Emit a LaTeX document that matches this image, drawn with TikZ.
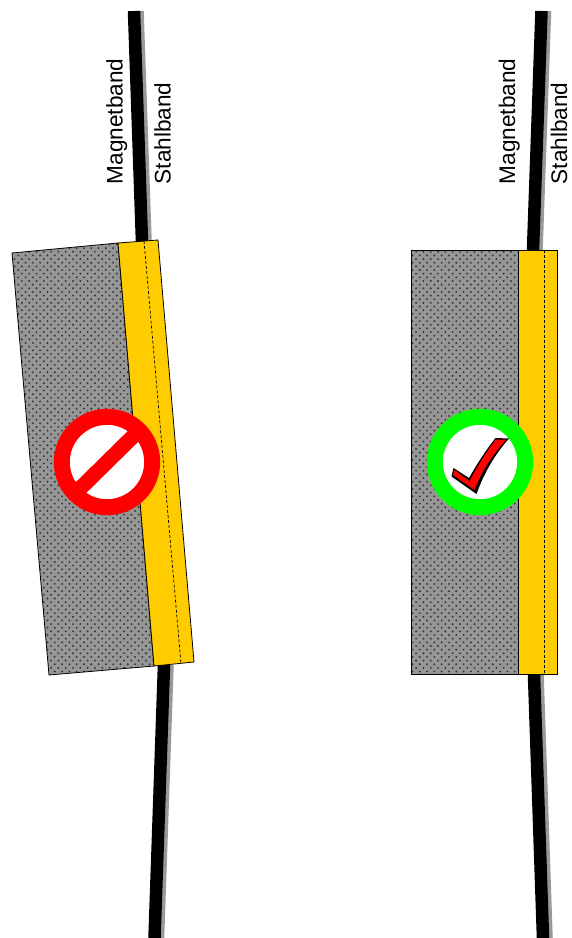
\documentclass[tikz,border=0pt]{standalone}
\usepackage{fontspec}
\setmainfont{Liberation Sans}
\usetikzlibrary{patterns}

\definecolor{bandgray}{HTML}{999999}
\definecolor{corefill}{HTML}{969696}
\definecolor{shoefill}{HTML}{FFCC00}
\definecolor{okgreen}{HTML}{00FF00}

\pgfdeclarepatternformonly{coredots}{\pgfqpoint{-1.5pt}{-1.5pt}}{\pgfqpoint{5.8pt}{5.8pt}}{\pgfqpoint{7.3pt}{7.3pt}}{
  \pgfpathcircle{\pgfqpoint{0pt}{0pt}}{1.05pt}
  \pgfpathcircle{\pgfqpoint{3.65pt}{3.65pt}}{1.05pt}
  \pgfusepath{fill}
}

\tikzset{
  magnet/.style={line width=12.5pt,black},
  steel/.style={line width=12.5pt,bandgray},
  core/.style={fill=corefill,draw=none},
  coredot/.style={pattern=coredots,pattern color=black!80,draw=black,line width=0.8pt},
  shoe/.style={fill=shoefill,draw=black,line width=0.8pt},
  seam/.style={densely dashed,line width=0.7pt},
  bandlabel/.style={rotate=90,anchor=base west,inner sep=0pt,font=\fontsize{22.6}{27}\selectfont}
}

\begin{document}
\begin{tikzpicture}[x=1pt,y=-1pt]

\useasboundingbox (0,0) rectangle (571,938);

% tilted head, bands
\draw[steel] (137.5,11) -- (145.5,242);

\draw[steel] (167.5,665) -- (158,938);

\draw[magnet] (134,11) -- (142,242);

\draw[magnet] (164,665) -- (154.5,938);

\node[bandlabel] (magnetA) at (122.5,184.5) {Magnetband};

\node[bandlabel] (stahlA) at (170.5,184.5) {Stahlband};

% tilted head, body
\coordinate (tl) at (12,253);
\coordinate (tm) at (118,243);
\coordinate (tr) at (158,240);
\coordinate (br) at (194,662);
\coordinate (bm) at (154,666);
\coordinate (bl) at (49,675);

\fill[core] (tl) -- (tm) -- (bm) -- (bl) -- cycle;

\draw[coredot] (tl) -- (tm) -- (bm) -- (bl) -- cycle;

\draw[shoe] (tm) -- (tr) -- (br) -- (bm) -- cycle;

\draw[seam] (144,241) -- (181,663.5);

% flat head, bands
\draw[steel] (545,11) -- (536.5,250);

\draw[steel] (537.5,675) -- (546.5,938);

\draw[magnet] (541.5,11) -- (533,250);

\draw[magnet] (534,675) -- (543,938);

\node[bandlabel] (magnetB) at (515,184.5) {Magnetband};

\node[bandlabel] (stahlB) at (567,184.5) {Stahlband};

% flat head, body
\fill[core] (411,250) rectangle (518,674);

\draw[coredot] (411,250) rectangle (518,674);

\draw[shoe] (518,250) rectangle (557,674);

\draw[seam] (544,250) -- (544,674);

% forbidden sign
\filldraw[fill=white,draw=red,line width=16pt] (107,462) circle[radius=45.2];

\draw[red,line width=15pt] (138,431.5) -- (76,492.5);

% check sign
\filldraw[fill=white,draw=okgreen,line width=16pt] (480,462) circle[radius=45.2];

\fill[black] (495.5,438) -- (509,438.5) .. controls (497,452) and (485,470) .. (476.5,494) -- (451.5,476.5) -- (453.5,468) -- (469,478) .. controls (477,464) and (486,450) .. cycle;

\fill[red] (496,439.5) -- (506.5,439.5) .. controls (494,453) and (482,470) .. (474.5,490) -- (453,475) -- (454.5,470) -- (469.5,481) .. controls (477,467) and (486,452) .. cycle;

\end{tikzpicture}
\end{document}
